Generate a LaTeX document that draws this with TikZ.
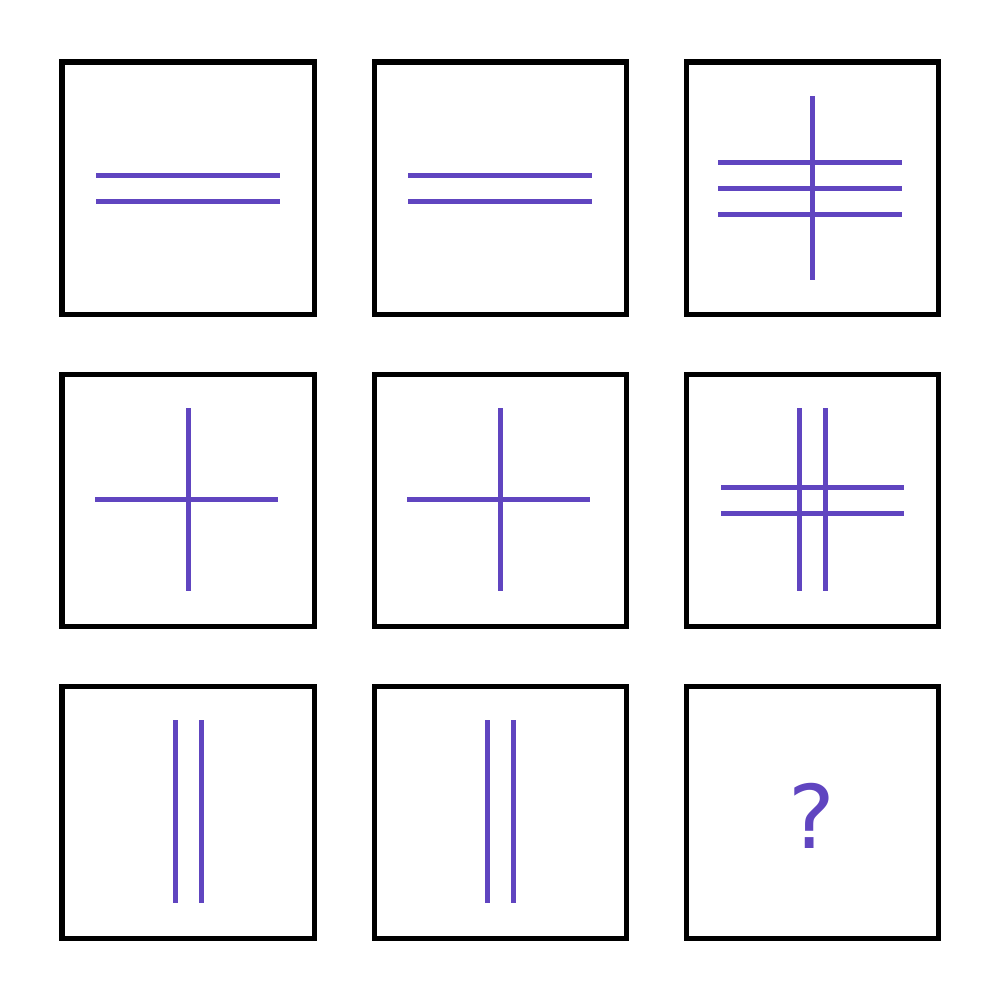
\documentclass[tikz,border=0pt]{standalone}
\usepackage{fontspec}
\newfontfamily\dejavu{DejaVu Sans}
\definecolor{pp}{RGB}{96,69,192}
\begin{document}
\begin{tikzpicture}[x=0.01cm,y=-0.01cm,
  cell/.style={draw=black,line width=5*0.2845pt},
  purpleline/.style={draw=pp,line width=5*0.2845pt},
  qm/.style={text=pp,font=\dejavu\fontsize{25}{25}\selectfont,inner sep=0pt}]
\useasboundingbox (0,0) rectangle (1000,1000);
% boxes
\foreach \i/\x in {1/62,2/374,3/686}{
  \foreach \j/\y in {1/62,2/374,3/686}{
    \draw[cell] (\x,\y) rectangle ++(252.5,252.5);
  }
}
% row 1
\foreach \cx in {188,500}{
  \draw[purpleline] (\cx-92,175) -- (\cx+92,175);
  \draw[purpleline] (\cx-92,201) -- (\cx+92,201);
}
\draw[purpleline] (718,162) -- (902,162);
\draw[purpleline] (718,188) -- (902,188);
\draw[purpleline] (718,214) -- (902,214);
\draw[purpleline] (812,96) -- (812,280);
% row 2
\foreach \cx in {188,500}{
  \draw[purpleline] (\cx-93,499.5) -- (\cx+90,499.5);
  \draw[purpleline] (\cx,408) -- (\cx,591);
}
\draw[purpleline] (721,487) -- (904,487);
\draw[purpleline] (721,513) -- (904,513);
\draw[purpleline] (799,408) -- (799,591);
\draw[purpleline] (825,408) -- (825,591);
% row 3
\foreach \cx in {188,500}{
  \draw[purpleline] (\cx-13,720) -- (\cx-13,903);
  \draw[purpleline] (\cx+13,720) -- (\cx+13,903);
}
\node[qm] (q) at (812,816) {?};
\end{tikzpicture}
\end{document}
